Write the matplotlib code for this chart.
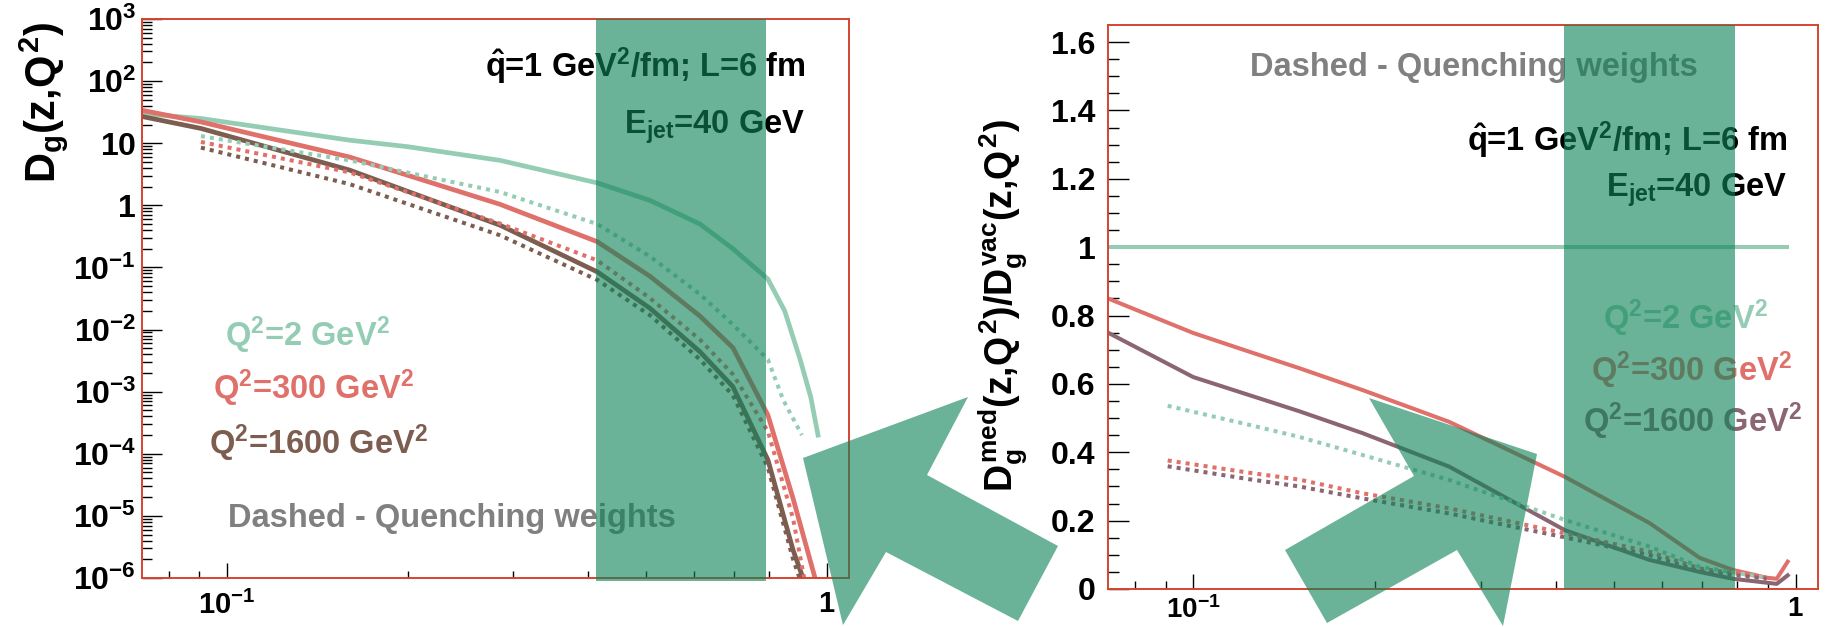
import matplotlib
matplotlib.use('Agg')
import matplotlib.pyplot as plt
import numpy as np
from matplotlib.patches import Polygon
from matplotlib.ticker import FixedLocator, NullFormatter

plt.rcParams['font.family'] = ['Liberation Sans', 'DejaVu Sans']
plt.rcParams['font.weight'] = 'bold'
plt.rcParams['mathtext.fontset'] = 'custom'
for k in ('rm', 'it', 'bf', 'sf'):
    plt.rcParams['mathtext.' + k] = 'Liberation Sans:bold'

W, H = 1827, 627

# ---- left panel: D_g(z,Q^2) in vacuum (solid) and with quenching weights (dotted)
z_v2 = [0.0721, 0.0905, 0.16, 0.2, 0.285, 0.414, 0.507, 0.614, 0.697, 0.797, 0.85, 0.902, 0.94, 0.966]
d_v2 = [30, 25, 11.2, 8.8, 5.3, 2.3, 1.2, 0.5, 0.2, 0.065, 0.02, 3.3e-3, 8e-4, 2e-4]
z_v300 = [0.0721, 0.0905, 0.16, 0.285, 0.414, 0.507, 0.614, 0.697, 0.797, 0.878, 0.955]
d_v300 = [34, 22, 6.0, 1.04, 0.26, 0.072, 0.0165, 5.1e-3, 4.2e-4, 1.9e-5, 1e-6]
z_v1600 = [0.0721, 0.0905, 0.16, 0.285, 0.414, 0.507, 0.614, 0.697, 0.797, 0.878, 0.912]
d_v1600 = [27, 17.3, 3.7, 0.48, 0.085, 0.022, 4.4e-3, 1.2e-3, 8e-5, 2.8e-6, 1e-6]

z_q2 = [0.0905, 0.16, 0.285, 0.414, 0.507, 0.614, 0.697, 0.797, 0.845, 0.908]
d_q2 = [13, 5.3, 1.64, 0.5, 0.15, 0.037, 0.012, 3.3e-3, 7.4e-4, 2e-4]
z_q300 = [0.0905, 0.16, 0.285, 0.414, 0.507, 0.614, 0.697, 0.797, 0.878, 0.916]
d_q300 = [10.5, 3.4, 0.51, 0.13, 0.032, 6.9e-3, 1.9e-3, 2.3e-4, 9e-6, 1e-6]
z_q1600 = [0.0905, 0.16, 0.285, 0.414, 0.507, 0.614, 0.697, 0.797, 0.878, 0.90]
d_q1600 = [8.5, 2.2, 0.33, 0.063, 0.017, 3.3e-3, 8.7e-4, 6e-5, 2e-6, 1e-6]

# ---- right panel: medium / vacuum ratio
z_r2 = [0.0722, 0.966]
r_2 = [1.0, 1.0]
z_r300 = [0.0722, 0.1, 0.124, 0.15, 0.191, 0.266, 0.414, 0.572, 0.693, 0.786, 0.895, 0.93, 0.97]
r_300 = [0.85, 0.749, 0.694, 0.646, 0.582, 0.489, 0.328, 0.193, 0.091, 0.056, 0.033, 0.03, 0.08]
z_r1600 = [0.0722, 0.1, 0.124, 0.15, 0.191, 0.266, 0.414, 0.572, 0.693, 0.786, 0.93, 0.97]
r_1600 = [0.75, 0.62, 0.567, 0.52, 0.456, 0.358, 0.172, 0.085, 0.05, 0.03, 0.015, 0.04]

z_rq = [0.0907, 0.124, 0.15, 0.191, 0.266, 0.414, 0.572, 0.693, 0.895]
rq_2 = [0.536, 0.48, 0.445, 0.392, 0.319, 0.202, 0.124, 0.065, 0.033]
rq_300 = [0.376, 0.34, 0.32, 0.28, 0.236, 0.163, 0.109, 0.06, 0.033]
rq_1600 = [0.359, 0.321, 0.30, 0.265, 0.221, 0.151, 0.099, 0.052, 0.03]

band = (0.412, 0.792)

c_2 = '#95cdb4'
c_300 = '#e0706a'
c_1600 = '#7c5d50'
c_1600r = '#8b6572'
c_band = '#0f8359'
a_band = 0.62

fig = plt.figure(figsize=(W / 100, H / 100), dpi=100)


def fx(px):
    return px / W


def fy(py):
    return 1 - py / H


def frame(ax):
    for s in ax.spines.values():
        s.set_color('#d5442f')
        s.set_linewidth(1.4)
    ax.tick_params(which='both', direction='in', color='black', width=1.0,
                   top=False, right=False)


dots = (0, (1.0, 1.25))

# left panel
ax1 = fig.add_axes([fx(141.7), fy(578), fx(849 - 141.7), (578 - 19) / H])
ax1.set_xscale('log')
ax1.set_yscale('log')
ax1.set_xlim(0.0721, 1.088)
ax1.set_ylim(1e-6, 1e3)
frame(ax1)

ax1.plot(z_v2, d_v2, color=c_2, lw=3.4, solid_joinstyle='round')
ax1.plot(z_v300, d_v300, color=c_300, lw=3.4, solid_joinstyle='round')
ax1.plot(z_v1600, d_v1600, color=c_1600, lw=3.4, solid_joinstyle='round')
ax1.plot(z_q2, d_q2, color=c_2, lw=2.9, ls=dots)
ax1.plot(z_q300, d_q300, color=c_300, lw=2.9, ls=dots)
ax1.plot(z_q1600, d_q1600, color=c_1600, lw=2.9, ls=dots)

ax1.axvspan(band[0], band[1], ymin=-0.006, ymax=1, color=c_band, alpha=a_band,
            lw=0, zorder=10, clip_on=False)

ydec = [1e-6, 1e-5, 1e-4, 1e-3, 1e-2, 1e-1, 1, 10, 1e2, 1e3]
ylab = [r'$10^{-6}$', r'$10^{-5}$', r'$10^{-4}$', r'$10^{-3}$', r'$10^{-2}$',
        r'$10^{-1}$', r'$1$', r'$10$', r'$10^{2}$', r'$10^{3}$']
ax1.set_yticks(ydec, labels=ylab)
ax1.yaxis.set_minor_locator(FixedLocator([m * 10.0 ** e for e in range(-6, 3) for m in range(2, 10)]))
ax1.yaxis.set_minor_formatter(NullFormatter())
ax1.set_xticks([0.1, 1], labels=[r'$10^{-1}$', r'$1$'])
ax1.xaxis.set_minor_locator(FixedLocator([0.08, 0.09, 0.2, 0.3, 0.4, 0.5, 0.6, 0.7, 0.8, 0.9]))
ax1.xaxis.set_minor_formatter(NullFormatter())
ax1.tick_params(axis='y', which='major', length=14.5, labelsize=23, pad=4)
ax1.tick_params(axis='y', which='minor', length=7.2)
ax1.tick_params(axis='x', which='major', length=10.8, labelsize=21, pad=9)
ax1.tick_params(axis='x', which='minor', length=5.4)

t1 = dict(transform=fig.transFigure, zorder=5, fontsize=23.5)
ax1.text(fx(805), fy(77), r'$\hat{q}$=1 GeV$^{2}$/fm; L=6 fm', ha='right', va='baseline', color='black', **t1)
ax1.text(fx(805), fy(134), r'E$_{jet}$=40 GeV', ha='right', va='baseline', color='black', **t1)
ax1.text(fx(307), fy(346), r'Q$^{2}$=2 GeV$^{2}$', ha='center', va='baseline', color=c_2, **t1)
ax1.text(fx(314), fy(399), r'Q$^{2}$=300 GeV$^{2}$', ha='center', va='baseline', color=c_300, **t1)
ax1.text(fx(319), fy(454), r'Q$^{2}$=1600 GeV$^{2}$', ha='center', va='baseline', color=c_1600, **t1)
ax1.text(fx(452), fy(527), 'Dashed - Quenching weights', ha='center', va='baseline', color='#808080', **t1)

fig.text(fx(44), fy(102), r'$D_{g}(z{,}Q^{2})$', rotation=90, ha='center', va='center', fontsize=30)

# right panel
ax2 = fig.add_axes([fx(1108), fy(589), fx(1818 - 1108), (589 - 25) / H])
ax2.set_xscale('log')
ax2.set_xlim(0.0722, 1.089)
ax2.set_ylim(0, 1.65)
frame(ax2)

ax2.plot(z_r2, r_2, color=c_2, lw=2.9)
ax2.plot(z_r300, r_300, color=c_300, lw=2.9, solid_joinstyle='round')
ax2.plot(z_r1600, r_1600, color=c_1600r, lw=2.9, solid_joinstyle='round')
ax2.plot(z_rq, rq_2, color=c_2, lw=2.9, ls=dots)
ax2.plot(z_rq, rq_300, color=c_300, lw=2.9, ls=dots)
ax2.plot(z_rq, rq_1600, color=c_1600r, lw=2.9, ls=dots)

ax2.axvspan(band[0], band[1], color=c_band, alpha=a_band, lw=0, zorder=10)

yt = [0, 0.2, 0.4, 0.6, 0.8, 1.0, 1.2, 1.4, 1.6]
ax2.set_yticks(yt, labels=['0', '0.2', '0.4', '0.6', '0.8', '1', '1.2', '1.4', '1.6'])
ax2.yaxis.set_minor_locator(FixedLocator(np.arange(0, 1.65, 0.05)))
ax2.set_xticks([0.1, 1], labels=[r'$10^{-1}$', r'$1$'])
ax2.xaxis.set_minor_locator(FixedLocator([0.08, 0.09, 0.2, 0.3, 0.4, 0.5, 0.6, 0.7, 0.8, 0.9]))
ax2.xaxis.set_minor_formatter(NullFormatter())
ax2.tick_params(axis='y', which='major', length=15, labelsize=23, pad=9)
ax2.tick_params(axis='y', which='minor', length=7.8)
ax2.tick_params(axis='x', which='major', length=10.8, labelsize=20, pad=5)
ax2.tick_params(axis='x', which='minor', length=5.6)

ax2.text(fx(1474), fy(76), 'Dashed - Quenching weights', ha='center', va='baseline', color='#808080', **t1)
ax2.text(fx(1787), fy(151), r'$\hat{q}$=1 GeV$^{2}$/fm; L=6 fm', ha='right', va='baseline', color='black', **t1)
ax2.text(fx(1787), fy(197), r'E$_{jet}$=40 GeV', ha='right', va='baseline', color='black', **t1)
ax2.text(fx(1768), fy(329), r'Q$^{2}$=2 GeV$^{2}$', ha='right', va='baseline', color=c_2, **t1)
ax2.text(fx(1792), fy(381), r'Q$^{2}$=300 GeV$^{2}$', ha='right', va='baseline', color=c_300, **t1)
ax2.text(fx(1802), fy(432), r'Q$^{2}$=1600 GeV$^{2}$', ha='right', va='baseline', color=c_1600r, **t1)

fig.text(fx(1003), fy(306), r'$D_{g}^{med}(z{,}Q^{2})/D_{g}^{vac}(z{,}Q^{2})$', rotation=90,
         ha='center', va='center', fontsize=27)

# two arrows pointing at the interesting region
arrow_mid = [(803, 458), (968, 397), (927, 475), (1058, 546), (1018, 621), (886, 552), (843, 625)]
arrow_right = [(1537, 454), (1503, 626), (1457, 550), (1327, 623), (1285, 550), (1414, 476), (1369, 398)]
for pts in (arrow_mid, arrow_right):
    fig.patches.append(Polygon([(fx(x), fy(y)) for x, y in pts], closed=True,
                               transform=fig.transFigure, facecolor=c_band,
                               alpha=a_band, lw=0, figure=fig))

fig.savefig('out.png', dpi=100)
